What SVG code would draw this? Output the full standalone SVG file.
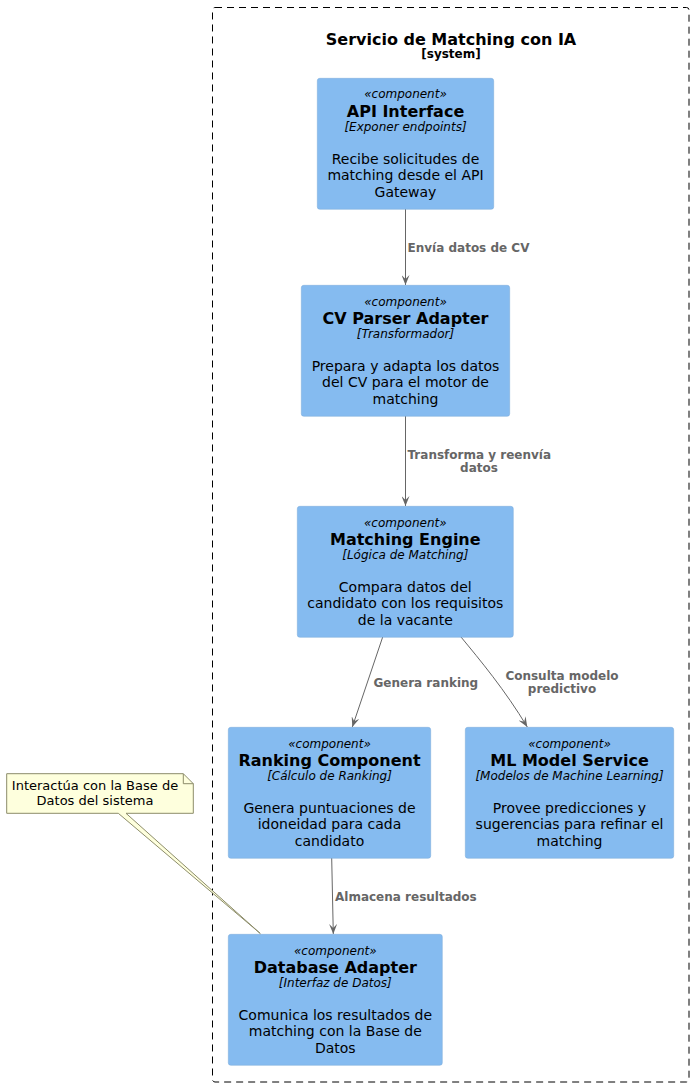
<svg xmlns="http://www.w3.org/2000/svg" width="694" height="1087" viewBox="0 0 694 1087">
<style>
text{font-family:"DejaVu Sans","Liberation Sans",sans-serif;fill:#000}
.box{fill:#85BBF0;stroke:#78A8D8;stroke-width:0.5}
.st{font-size:12px;font-style:italic;text-anchor:middle}
.nm{font-size:16px;font-weight:bold;text-anchor:middle}
.tc{font-size:12px;font-style:italic;text-anchor:middle}
.ds{font-size:14px;text-anchor:middle}
.lb{font-size:12px;font-weight:bold;fill:#666666}
.edge{stroke:#666666;stroke-width:1;fill:none}
.nt{font-size:13px}
</style>
<defs>
<marker id="ah" viewBox="0 0 10 8" refX="10" refY="4" markerWidth="10" markerHeight="8" markerUnits="userSpaceOnUse" orient="auto">
<path d="M0,0 L10,4 L0,8 L4,4 Z" fill="#666666"/>
</marker>
</defs>

<g id="boundary">
<rect x="212.5" y="7.5" width="476.5" height="1074.5" rx="2.5" fill="none" stroke="#000" stroke-width="1" stroke-dasharray="7,5"/>
<text x="451" y="45" style="font-size:16px;font-weight:bold;text-anchor:middle">Servicio de Matching con IA</text>
<text x="451" y="58" style="font-size:12px;font-weight:bold;text-anchor:middle">[system]</text>
</g>

<g id="connectors">
<line class="edge" x1="405.5" y1="209" x2="405.5" y2="285" marker-end="url(#ah)"/>
<text class="lb" x="407.5" y="251.5">Envía datos de CV</text>
<line class="edge" x1="405.5" y1="416" x2="405.5" y2="506" marker-end="url(#ah)"/>
<text class="lb" x="407.5" y="459">Transforma y reenvía</text>
<text class="lb" x="479" y="472" text-anchor="middle">datos</text>
<line class="edge" x1="382.7" y1="637" x2="352.3" y2="727" marker-end="url(#ah)"/>
<text class="lb" x="373.5" y="687">Genera ranking</text>
<path class="edge" d="M461,637 C480,660 505,690 527.3,727" marker-end="url(#ah)"/>
<text class="lb" x="562" y="680" text-anchor="middle">Consulta modelo</text>
<text class="lb" x="562" y="693" text-anchor="middle">predictivo</text>
<line class="edge" x1="331.7" y1="858" x2="333.3" y2="934" marker-end="url(#ah)"/>
<text class="lb" x="335" y="901">Almacena resultados</text>
</g>

<g id="api-interface">
<rect class="box" x="317.3" y="78.3" width="176.4" height="131" rx="2.5"/>
<text class="st" x="405.5" y="98">«component»</text>
<text class="nm" x="405.5" y="117">API Interface</text>
<text class="tc" x="405.5" y="131">[Exponer endpoints]</text>
<text class="ds" x="405.5" y="163.5">Recibe solicitudes de</text>
<text class="ds" x="405.5" y="180">matching desde el API</text>
<text class="ds" x="405.5" y="196.5">Gateway</text>
</g>

<g id="cv-parser-adapter">
<rect class="box" x="301.3" y="285.3" width="208.4" height="131" rx="2.5"/>
<text class="st" x="405.5" y="305.5">«component»</text>
<text class="nm" x="405.5" y="324">CV Parser Adapter</text>
<text class="tc" x="405.5" y="338">[Transformador]</text>
<text class="ds" x="405.5" y="370.5">Prepara y adapta los datos</text>
<text class="ds" x="405.5" y="387">del CV para el motor de</text>
<text class="ds" x="405.5" y="403.5">matching</text>
</g>

<g id="matching-engine">
<rect class="box" x="297.3" y="506.3" width="216" height="131" rx="2.5"/>
<text class="st" x="405.3" y="526.5">«component»</text>
<text class="nm" x="405.3" y="545">Matching Engine</text>
<text class="tc" x="405.3" y="559">[Lógica de Matching]</text>
<text class="ds" x="405.3" y="591.5">Compara datos del</text>
<text class="ds" x="405.3" y="608">candidato con los requisitos</text>
<text class="ds" x="405.3" y="624.5">de la vacante</text>
</g>

<g id="ranking-component">
<rect class="box" x="228.3" y="727.3" width="202.4" height="131" rx="2.5"/>
<text class="st" x="329.5" y="747.5">«component»</text>
<text class="nm" x="329.5" y="766">Ranking Component</text>
<text class="tc" x="329.5" y="780">[Cálculo de Ranking]</text>
<text class="ds" x="329.5" y="812.5">Genera puntuaciones de</text>
<text class="ds" x="329.5" y="829">idoneidad para cada</text>
<text class="ds" x="329.5" y="845.5">candidato</text>
</g>

<g id="ml-model-service">
<rect class="box" x="465.3" y="727.3" width="208.4" height="131" rx="2.5"/>
<text class="st" x="569.5" y="747.5">«component»</text>
<text class="nm" x="569.5" y="766">ML Model Service</text>
<text class="tc" x="569.5" y="780">[Modelos de Machine Learning]</text>
<text class="ds" x="569.5" y="812.5">Provee predicciones y</text>
<text class="ds" x="569.5" y="829">sugerencias para refinar el</text>
<text class="ds" x="569.5" y="845.5">matching</text>
</g>

<g id="database-adapter">
<rect class="box" x="228.3" y="934.3" width="214" height="131" rx="2.5"/>
<text class="st" x="335.3" y="954.5">«component»</text>
<text class="nm" x="335.3" y="973">Database Adapter</text>
<text class="tc" x="335.3" y="987">[Interfaz de Datos]</text>
<text class="ds" x="335.3" y="1019.5">Comunica los resultados de</text>
<text class="ds" x="335.3" y="1036">matching con la Base de</text>
<text class="ds" x="335.3" y="1052.5">Datos</text>
</g>

<g id="note">
<path d="M6.7,773.7 L183.3,773.7 L193.3,783.7 L193.3,813.3 L126,813.3 L260.3,933.5 L118.3,813.3 L6.7,813.3 Z" fill="#FEFFDD" stroke="#8C8C6A" stroke-width="1"/>
<path d="M183.3,773.7 L183.3,783.7 L193.3,783.7" fill="none" stroke="#8C8C6A" stroke-width="1"/>
<text class="nt" x="95" y="790" text-anchor="middle">Interactúa con la Base de</text>
<text class="nt" x="95" y="805" text-anchor="middle">Datos del sistema</text>
</g>
</svg>
